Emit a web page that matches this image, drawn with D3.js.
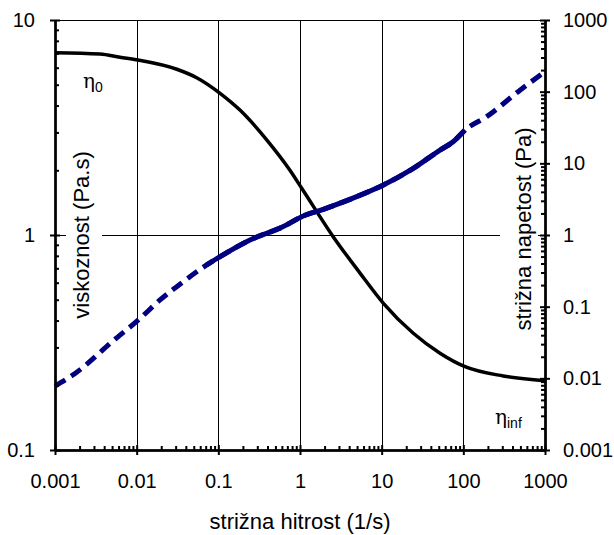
<!DOCTYPE html>
<html><head><meta charset="utf-8">
<script src="https://d3js.org/d3.v7.min.js"></script>
<style>body{margin:0;background:#fff}svg{display:block;font-family:"Liberation Sans",Arial,sans-serif}</style>
</head><body><div id="chart"></div>
<script>
// viscosity (Pa.s) vs shear rate (1/s)
const viscRate = [0.001,0.00356,0.00625,0.0104,0.031,0.0543,0.105,0.184,0.391,0.753,1.05,2.56,5.43,10.5,24.4,51.8,105,308,1000];
const viscVal  = [7.05,6.95,6.71,6.51,5.90,5.39,4.56,3.81,2.77,2.00,1.65,0.98,0.665,0.481,0.349,0.282,0.244,0.221,0.210];
// shear stress (Pa) vs shear rate (1/s)
const stressRate = [0.001,0.00176,0.00543,0.0105,0.0193,0.0372,0.072,0.105,0.244,0.624,1.05,1.93,4.94,10.5,24.4,51.8,75,105,193,494,1000];
const stressVal  = [0.0078,0.0117,0.0351,0.0652,0.124,0.223,0.382,0.498,0.851,1.31,1.80,2.28,3.43,4.99,8.5,15.3,20.0,29.2,44.8,105,190];
const denseRange = [0.072,105]; // densely measured part (appears solid)
const xTicks = [0.001,0.01,0.1,1,10,100,1000];
const xTickLabels = ["0.001","0.01","0.1","1","10","100","1000"];
const yLTicks = [0.1,1,10];
const yLTickLabels = ["0.1","1","10"];
const yRTicks = [0.001,0.01,0.1,1,10,100,1000];
const yRTickLabels = ["0.001","0.01","0.1","1","10","100","1000"];

const W=614,H=535, L=55,R=545,T=20,B=450;
const svg=d3.select("#chart").append("svg").attr("width",W).attr("height",H);
const x=d3.scaleLog().domain([0.001,1000]).range([L,R]);
const yL=d3.scaleLog().domain([0.1,10]).range([B,T]);
const yR=d3.scaleLog().domain([0.001,1000]).range([B,T]);

function minors(lo,hi){const a=[];for(let e=Math.round(Math.log10(lo));e<Math.round(Math.log10(hi));e++)for(let k=2;k<=9;k++)a.push(k*Math.pow(10,e));return a;}

// gridlines
const g=svg.append("g");
g.selectAll("line.vx").data(xTicks.slice(1,-1)).join("line")
 .attr("x1",d=>Math.round(x(d))+0.5).attr("x2",d=>Math.round(x(d))+0.5).attr("y1",T).attr("y2",B)
 .attr("stroke","#000").attr("stroke-width",1);
g.append("line").attr("x1",L).attr("x2",R).attr("y1",T+0.5).attr("y2",T+0.5).attr("stroke","#000");
g.selectAll("line.hy").data([1]).join("line")
 .attr("x1",L).attr("x2",R).attr("y1",d=>Math.round(yL(d))+0.5).attr("y2",d=>Math.round(yL(d))+0.5)
 .attr("stroke","#000").attr("stroke-width",1);

// axis titles with white boxes
svg.append("rect").attr("x",66).attr("y",145).attr("width",36).attr("height",180).attr("fill","#fff");
svg.append("rect").attr("x",500).attr("y",118).attr("width",38).attr("height",222).attr("fill","#fff");
svg.append("text").attr("transform","translate(89,235) rotate(-90)").attr("text-anchor","middle")
 .attr("font-size",22).text("viskoznost (Pa.s)");
svg.append("text").attr("transform","translate(531,229) rotate(-90)").attr("text-anchor","middle")
 .attr("font-size",22).text("strižna napetost (Pa)");
svg.append("text").attr("x",300).attr("y",529).attr("text-anchor","middle").attr("font-size",22).text("strižna hitrost (1/s)");

// curves
const lineV=d3.line().x((d,i)=>x(viscRate[i])).y(d=>yL(d)).curve(d3.curveMonotoneX);
svg.append("path").datum(viscVal).attr("d",lineV).attr("fill","none").attr("stroke","#000").attr("stroke-width",3.5).attr("stroke-linejoin","round");
const stressPts=stressRate.map((r,i)=>[r,stressVal[i]]);
const lineS=d3.line().x(d=>x(d[0])).y(d=>yR(d[1])).curve(d3.curveMonotoneX);
svg.append("path").datum(stressPts).attr("d",lineS).attr("fill","none").attr("stroke","#000080").attr("stroke-width",5).attr("stroke-dasharray","12,7");
svg.append("path").datum(stressPts.filter(d=>d[0]>=denseRange[0]&&d[0]<=denseRange[1])).attr("d",lineS)
 .attr("fill","none").attr("stroke","#000080").attr("stroke-width",5).attr("stroke-linejoin","round");

// axes
function style(sel){sel.select(".domain").attr("stroke","#000").attr("stroke-width",2);sel.selectAll(".tick line").attr("stroke","#000").attr("stroke-width",2);sel.selectAll("text").attr("font-size",20).attr("fill","#000").attr("font-family","Liberation Sans, Arial, sans-serif");}
const fx=d=>xTickLabels[xTicks.indexOf(d)];
const ax=svg.append("g").attr("transform",`translate(0,${B})`).call(d3.axisBottom(x).tickValues(xTicks).tickFormat(fx).tickSizeInner(5).tickSizeOuter(0).tickPadding(19));
style(ax);
svg.append("g").attr("transform",`translate(0,${B})`).call(d3.axisBottom(x).tickValues(xTicks).tickFormat("").tickSizeInner(-5).tickSizeOuter(0)).call(style);
svg.append("g").attr("transform",`translate(0,${B})`).call(d3.axisBottom(x).tickValues(minors(0.001,1000)).tickFormat("").tickSizeInner(-4).tickSizeOuter(0)).call(style);

const ayl=svg.append("g").attr("transform",`translate(${L},0)`).call(d3.axisLeft(yL).tickValues(yLTicks).tickFormat(d=>yLTickLabels[yLTicks.indexOf(d)]).tickSizeInner(5).tickSizeOuter(0).tickPadding(15));
style(ayl);
svg.append("g").attr("transform",`translate(${L},0)`).call(d3.axisLeft(yL).tickValues(yLTicks).tickFormat("").tickSizeInner(-5).tickSizeOuter(0)).call(style);
svg.append("g").attr("transform",`translate(${L},0)`).call(d3.axisLeft(yL).tickValues(minors(0.1,10)).tickFormat("").tickSizeInner(-4).tickSizeOuter(0)).call(style);

const ayr=svg.append("g").attr("transform",`translate(${R},0)`).call(d3.axisRight(yR).tickValues(yRTicks).tickFormat(d=>yRTickLabels[yRTicks.indexOf(d)]).tickSizeInner(5).tickSizeOuter(0).tickPadding(13));
style(ayr);
svg.append("g").attr("transform",`translate(${R},0)`).call(d3.axisRight(yR).tickValues(yRTicks).tickFormat("").tickSizeInner(-5).tickSizeOuter(0)).call(style);
svg.append("g").attr("transform",`translate(${R},0)`).call(d3.axisRight(yR).tickValues(minors(0.001,1000)).tickFormat("").tickSizeInner(-4).tickSizeOuter(0)).call(style);
svg.selectAll(".domain").attr("stroke-width",2);

// eta labels
const e0=svg.append("text").attr("x",83).attr("y",88).attr("font-size",20).attr("font-family","DejaVu Serif, serif");
e0.append("tspan").text("η");
e0.append("tspan").attr("font-size",14).attr("dx",0).attr("dy",4).attr("font-family","Liberation Sans, Arial, sans-serif").text("0");
const e1=svg.append("text").attr("x",495).attr("y",424).attr("font-size",20).attr("font-family","DejaVu Serif, serif");
e1.append("tspan").text("η");
e1.append("tspan").attr("font-size",14).attr("dx",0).attr("dy",4).attr("font-family","Liberation Sans, Arial, sans-serif").text("inf");
</script></body></html>
